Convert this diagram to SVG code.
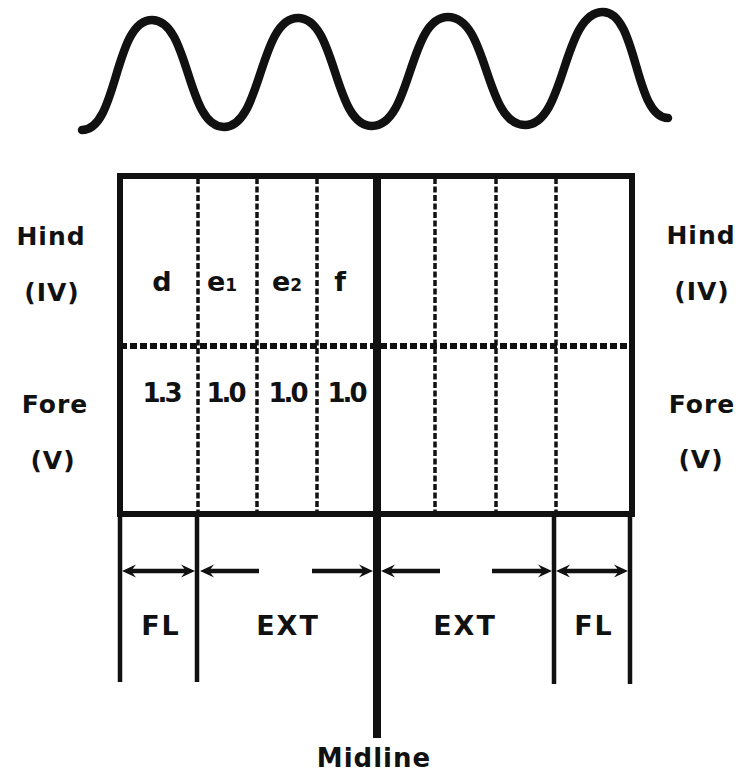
<svg xmlns="http://www.w3.org/2000/svg" width="745" height="773" viewBox="0 0 745 773">
<style>
  .t { font-family: "DejaVu Sans", "Liberation Sans", sans-serif; font-weight: bold; fill: #111; text-anchor: middle; }
  .side { font-size: 25px; letter-spacing: 1px; }
  .cell { font-size: 27px; }
  .num { font-size: 26px; letter-spacing: -3px; }
  .bot { font-size: 27px; letter-spacing: 2px; }
  .thick { stroke: #111; stroke-width: 6; fill: none; }
  .mid { stroke: #111; stroke-width: 8; fill: none; }
  .ext { stroke: #111; stroke-width: 4.5; fill: none; }
  .vdash { stroke: #111; stroke-width: 3.5; stroke-dasharray: 6 2.5; fill: none; }
  .hdash { stroke: #111; stroke-width: 6; stroke-dasharray: 7 3; fill: none; }
  .arr { stroke: #111; stroke-width: 4.5; fill: none; }
</style>
<defs>
  <marker id="ah" markerUnits="userSpaceOnUse" viewBox="0 0 14 14" markerWidth="14" markerHeight="14" refX="5" refY="7" orient="auto-start-reverse">
    <path d="M0,0.5 L14,7 L0,13.5 L5,7 Z" fill="#111"/>
  </marker>
</defs>
<rect width="745" height="773" fill="#fff"/>

<g id="wave">
  <path d="M82,130 C118,130 114,20 152,20 C190,20 186,127 224,127 C262,127 259,18 298,18 C337,18 333,126 372,126 C412,126 408,17 448,17 C489,17 484,125 525,125 C566,125 562,12 603,12 C638,12 634,118 668,118" stroke="#111" stroke-width="8.5" fill="none" stroke-linecap="round"/>
</g>

<g id="wing-grid">
  <line class="vdash" x1="198" y1="178" x2="198" y2="512"/>
  <line class="vdash" x1="257" y1="178" x2="257" y2="512"/>
  <line class="vdash" x1="317" y1="178" x2="317" y2="512"/>
  <line class="vdash" x1="435" y1="178" x2="435" y2="512"/>
  <line class="vdash" x1="496" y1="178" x2="496" y2="512"/>
  <line class="vdash" x1="556" y1="178" x2="556" y2="512"/>
  <line class="hdash" x1="120" y1="346" x2="632" y2="346"/>
  <rect class="thick" x="120" y="176" width="512" height="338"/>
  <line class="ext" x1="120" y1="514" x2="120" y2="682"/>
  <line class="ext" x1="197" y1="514" x2="197" y2="682"/>
  <line class="ext" x1="554" y1="514" x2="554" y2="684"/>
  <line class="ext" x1="630" y1="514" x2="630" y2="684"/>
  <line class="mid" x1="377" y1="173" x2="377" y2="738"/>
</g>

<g id="connectors">
  <line class="arr" x1="131" y1="571" x2="186" y2="571" marker-start="url(#ah)" marker-end="url(#ah)"/>
  <line class="arr" x1="259" y1="571" x2="209" y2="571" marker-end="url(#ah)"/>
  <line class="arr" x1="312" y1="571" x2="364" y2="571" marker-end="url(#ah)"/>
  <line class="arr" x1="440" y1="571" x2="390" y2="571" marker-end="url(#ah)"/>
  <line class="arr" x1="492" y1="571" x2="543" y2="571" marker-end="url(#ah)"/>
  <line class="arr" x1="565" y1="571" x2="619" y2="571" marker-start="url(#ah)" marker-end="url(#ah)"/>
</g>

<g id="left-labels">
  <text class="t side" x="51" y="245">Hind</text>
  <text class="t side" x="52" y="301">(IV)</text>
  <text class="t side" x="55" y="413">Fore</text>
  <text class="t side" x="53" y="469">(V)</text>
</g>
<g id="right-labels">
  <text class="t side" x="701" y="244">Hind</text>
  <text class="t side" x="702" y="300">(IV)</text>
  <text class="t side" x="702" y="413">Fore</text>
  <text class="t side" x="701" y="468">(V)</text>
</g>

<g id="cell-labels">
  <text class="t cell" x="162" y="291">d</text>
  <text class="t cell" x="222" y="291">e<tspan font-size="17">1</tspan></text>
  <text class="t cell" x="287" y="291">e<tspan font-size="17">2</tspan></text>
  <text class="t cell" x="340" y="291">f</text>
  <text class="t num" x="161" y="402">1.3</text>
  <text class="t num" x="225" y="402">1.0</text>
  <text class="t num" x="287" y="402">1.0</text>
  <text class="t num" x="346" y="402">1.0</text>
</g>

<g id="bottom-labels">
  <text class="t bot" x="161" y="635">FL</text>
  <text class="t bot" x="288" y="635">EXT</text>
  <text class="t bot" x="465" y="635">EXT</text>
  <text class="t bot" x="594" y="635">FL</text>
  <text class="t bot" x="374" y="767" style="font-size:26px;letter-spacing:1px">Midline</text>
</g>
</svg>
